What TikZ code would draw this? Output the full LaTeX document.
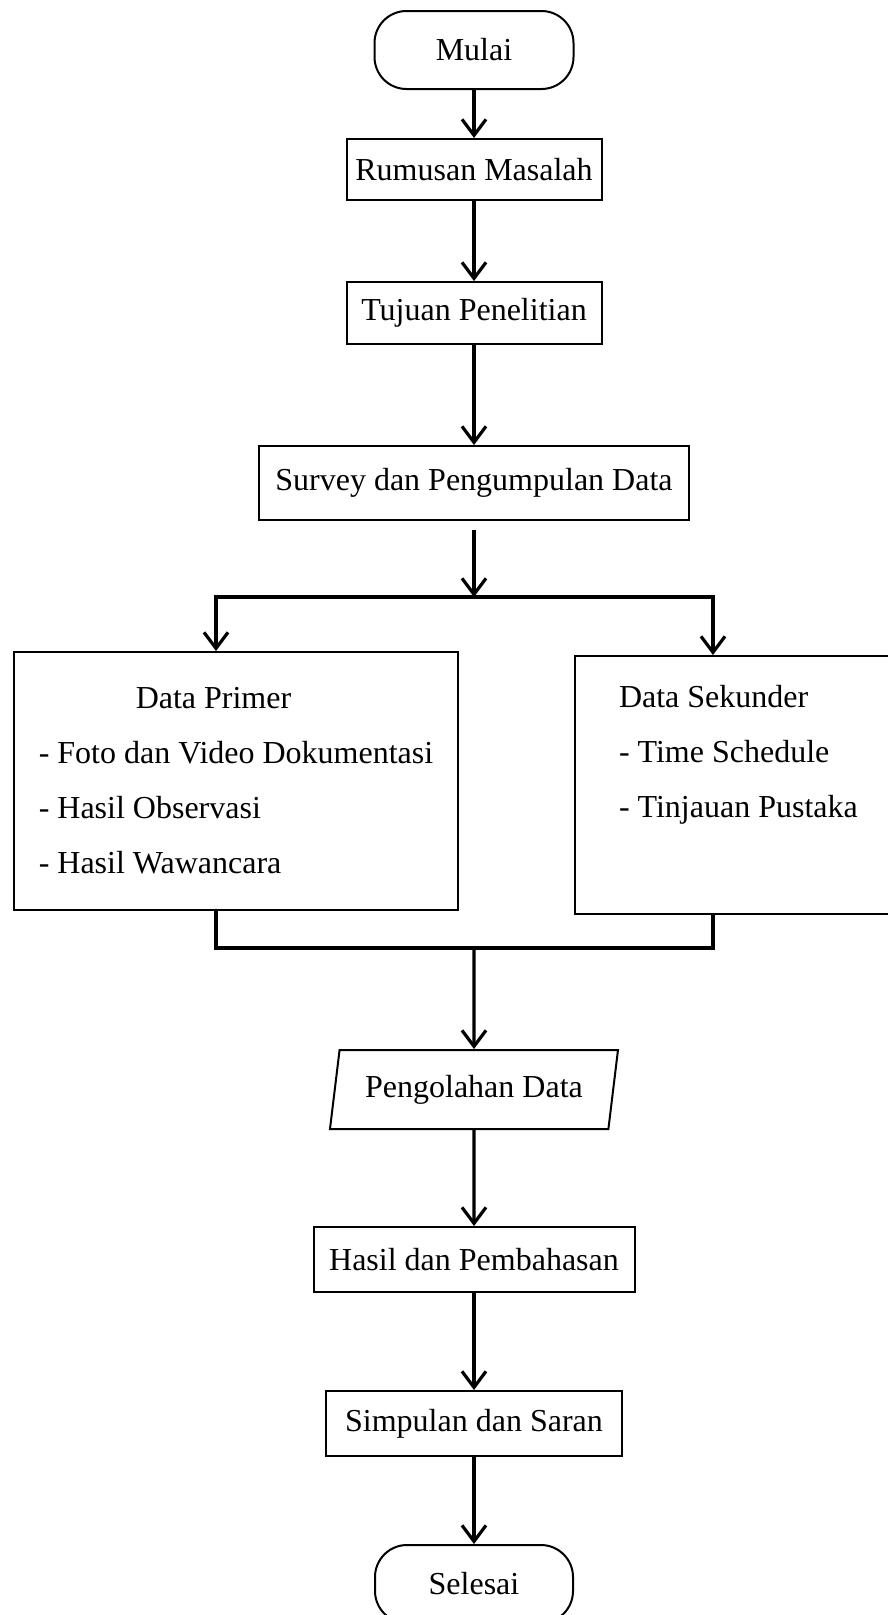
\documentclass[tikz,border=0pt]{standalone}
\usepackage{fontspec}
\setmainfont{Liberation Serif}
\usetikzlibrary{shapes.geometric, arrows.meta, positioning}
\tikzset{
    terminal/.style = {rectangle, draw, line width=2pt, rounded corners=32pt, minimum width=199pt, minimum height=78pt},
    box/.style = {rectangle, draw, line width=2pt, inner xsep=6pt, minimum height=62pt},
    bigbox/.style = {rectangle, draw, line width=2pt, align=left, minimum height=258pt},
    io/.style = {trapezium, trapezium left angle=75, trapezium right angle=105, trapezium stretches body, draw, line width=2pt, minimum width=288pt, minimum height=79pt},
    arrow/.style = {line width=3.2pt, -{Straight Barb[length=16pt,width=24pt]}},
    line/.style = {line width=3.2pt, line cap=rect, -}
}
\begin{document}
\begin{tikzpicture}[x=1pt, y=-1pt, font=\fontsize{32}{55}\selectfont]
\useasboundingbox (0,0) rectangle (888,1615);
\clip (0,0) rectangle (888,1615);

\node (mulai) [terminal] at (474,50) {Mulai};
\node (rumusan) [box, minimum width=255pt, minimum height=61pt, below=48pt of mulai] {Rumusan Masalah};
\node (tujuan) [box, minimum width=255pt, below=80pt of rumusan] {Tujuan Penelitian};
\node (survey) [box, minimum width=430pt, minimum height=74pt, below=100pt of tujuan] {Survey dan Pengumpulan Data};

\coordinate (cabang) at (474,597);
\coordinate (kiri) at (216,597);
\coordinate (kanan) at (713,597);
\node (primer) [bigbox, minimum width=444pt] at (236,781) {\hspace*{97pt}Data Primer\\- Foto dan Video Dokumentasi\\- Hasil Observasi\\- Hasil Wawancara};
\node (sekunder) [bigbox, inner xsep=44pt, anchor=north west] at (574,655) {Data Sekunder\\- Time Schedule\\- Tinjauan Pustaka\\\rule[-12pt]{0pt}{12pt}};
\coordinate (gabung) at (474,948);

\node (olah) [io, below=101pt of gabung] {Pengolahan Data};
\node (hasil) [box, minimum width=321pt, minimum height=65pt, below=96pt of olah] {Hasil dan Pembahasan};
\node (simpulan) [box, minimum width=296pt, minimum height=65pt, below=97pt of hasil] {Simpulan dan Saran};
\node (selesai) [terminal, minimum width=198pt, below=87pt of simpulan] {Selesai};

\draw [arrow] (mulai) -- (rumusan);
\draw [arrow] (rumusan) -- (tujuan);
\draw [arrow] (tujuan) -- (survey);
\draw [arrow, shorten <=9pt] (survey) -- (cabang);
\draw [line] (kiri) -- (kanan);
\draw [arrow] (kiri) -- (kiri |- primer.north);
\draw [arrow] (kanan) -- (kanan |- sekunder.north);
\draw [line] (kiri |- primer.south) -- (kiri |- gabung) -- (kanan |- gabung) -- (kanan |- sekunder.south);
\draw [arrow] (gabung) -- (olah);
\draw [arrow] (olah) -- (hasil);
\draw [arrow] (hasil) -- (simpulan);
\draw [arrow] (simpulan) -- (selesai);
\end{tikzpicture}
\end{document}
